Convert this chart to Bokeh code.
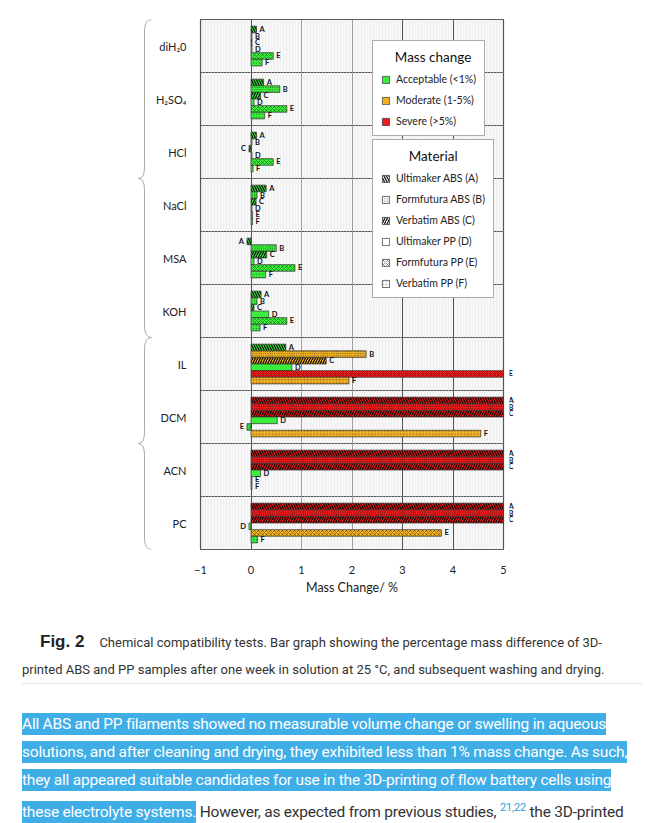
import numpy as np
from bokeh.plotting import figure
from bokeh.core.properties import value
from bokeh.models import (ColumnDataSource, Range1d, FixedTicker, LabelSet, Legend,
                          LegendItem, Div, BoxAnnotation)
from bokeh.layouts import column, row
from bokeh.embed import file_html
from bokeh.resources import INLINE

# ---------------- data ----------------
categories = ["diH\u20820", "H\u2082SO\u2084", "HCl", "NaCl", "MSA", "KOH", "IL", "DCM", "ACN", "PC"]
group_sizes = [6, 4]          # aqueous, organic
letters = ["A", "B", "C", "D", "E", "F"]
materials = ["Ultimaker ABS (A)", "Formfutura ABS (B)", "Verbatim ABS (C)",
             "Ultimaker PP (D)", "Formfutura PP (E)", "Verbatim PP (F)"]
# mass change (%) per material, in category order (values >5 drawn at the 5 % limit)
vals_A = [0.11, 0.25, 0.11, 0.30, -0.08, 0.20, 0.69, 5.0, 5.0, 5.0]
vals_B = [0.02, 0.57, 0.02, 0.12, 0.50, 0.12, 2.28, 5.0, 5.0, 5.0]
vals_C = [0.02, 0.19, -0.04, 0.10, 0.31, 0.06, 1.49, 5.0, 5.0, 5.0]
vals_D = [0.02, 0.06, 0.02, 0.02, 0.06, 0.35, 0.81, 0.52, 0.19, -0.04]
vals_E = [0.44, 0.71, 0.44, 0.03, 0.87, 0.71, 5.0, -0.08, 0.02, 3.77]
vals_F = [0.22, 0.27, 0.04, 0.03, 0.29, 0.18, 1.94, 4.55, 0.02, 0.13]
values = [vals_A, vals_B, vals_C, vals_D, vals_E, vals_F]
x_ticks = [-1, 0, 1, 2, 3, 4, 5]
x_min, x_max = -1, 5

class_names = ["Acceptable (<1%)", "Moderate (1-5%)", "Severe (>5%)"]
class_colors = ["#3cee3c", "#f0b224", "#ee1c1c"]
class_limits = [1.0, 5.0]

hatch_styles = [
    dict(hatch_pattern="left_diagonal_line", hatch_scale=5, hatch_weight=1.3, hatch_color="black", hatch_alpha=0.9),
    dict(hatch_pattern="dot", hatch_scale=2.2, hatch_weight=1.0, hatch_color="black", hatch_alpha=0.65),
    dict(hatch_pattern="right_diagonal_line", hatch_scale=5, hatch_weight=1.3, hatch_color="black", hatch_alpha=0.9),
    dict(),
    dict(hatch_pattern="diagonal_cross", hatch_scale=4, hatch_weight=0.8, hatch_color="black", hatch_alpha=0.45),
    dict(hatch_pattern="dot", hatch_scale=3.2, hatch_weight=1.0, hatch_color="black", hatch_alpha=0.4),
]

FONT = "Lato"
n = len(categories)
bar_h = 0.125
TOP, BOTTOM = 19, 48
H = TOP + 530 + BOTTOM

main = figure(width=357, height=H, x_range=Range1d(x_min, x_max), y_range=Range1d(0, n),
              output_backend="svg", toolbar_location=None,
              min_border_left=37, min_border_right=6, min_border_top=TOP, min_border_bottom=BOTTOM)
main.background_fill_color = "#f7f7f7"
main.border_fill_color = "white"
main.outline_line_color = "#555555"
main.outline_line_width = 1.2

main.add_layout(BoxAnnotation(level="underlay", fill_alpha=0, line_alpha=0,
                              hatch_pattern="vertical_line", hatch_color="#e6e6e6",
                              hatch_scale=3, hatch_weight=0.5))

main.xgrid.ticker = FixedTicker(ticks=x_ticks)
main.xgrid.grid_line_color = "#555555"
main.xgrid.grid_line_width = 1
main.ygrid.ticker = FixedTicker(ticks=list(range(1, n)))
main.ygrid.grid_line_color = "#555555"
main.ygrid.grid_line_width = 1

centers = [n - i - 0.5 for i in range(n)]
main.yaxis.ticker = FixedTicker(ticks=centers)
main.yaxis.major_label_overrides = {c: cat for c, cat in zip(centers, categories)}
main.xaxis.ticker = FixedTicker(ticks=x_ticks)
for ax in (main.xaxis[0], main.yaxis[0]):
    ax.axis_line_color = None
    ax.major_tick_line_color = None
    ax.minor_tick_line_color = None
    ax.major_label_text_font = FONT
    ax.major_label_text_font_size = "11px"
    ax.major_label_text_color = "#222222"
main.yaxis.major_label_standoff = 8
main.xaxis.major_label_standoff = 10
main.xaxis.axis_label = "Mass Change/ %"
main.xaxis.axis_label_text_font = FONT
main.xaxis.axis_label_text_font_style = "normal"
main.xaxis.axis_label_text_font_size = "12.5px"
main.xaxis.axis_label_text_color = "#222222"
main.xaxis.axis_label_standoff = 3


def class_color(v):
    if v >= class_limits[1]:
        return class_colors[2]
    if v >= class_limits[0]:
        return class_colors[1]
    return class_colors[0]


lab_pos = dict(x=[], y=[], t=[])
lab_neg = dict(x=[], y=[], t=[])
lab_cap = dict(y=[], t=[])
for j, (vals, letter) in enumerate(zip(values, letters)):
    ys = [c + 0.3125 - j * bar_h for c in centers]
    src = ColumnDataSource(dict(y=ys, right=vals, color=[class_color(v) for v in vals]))
    main.hbar(y="y", left=0, right="right", height=bar_h, source=src, fill_color="color",
              line_color="#333333", line_width=0.7, **hatch_styles[j])
    for v, y in zip(vals, ys):
        if v >= x_max:
            lab_cap["y"].append(y); lab_cap["t"].append(letter)
        elif v < 0:
            lab_neg["x"].append(v); lab_neg["y"].append(y); lab_neg["t"].append(letter)
        else:
            lab_pos["x"].append(v); lab_pos["y"].append(y); lab_pos["t"].append(letter)

label_style = dict(text_font=value(FONT), text_font_size=value("7.5px"), text_font_style="bold",
                   text_color="#111111", text_baseline="middle")
main.add_layout(LabelSet(x="x", y="y", text="t", x_offset=3,
                         source=ColumnDataSource(lab_pos), text_align="left", **label_style))
main.add_layout(LabelSet(x="x", y="y", text="t", x_offset=-3,
                         source=ColumnDataSource(lab_neg), text_align="right", **label_style))

# legends (placeholder renderers with NaN data, used only for legend glyphs)
nan_src = dict(y=[np.nan], right=[np.nan])
mass_items = []
for name, col in zip(class_names, class_colors):
    r = main.hbar(y="y", right="right", left=0, height=bar_h, source=ColumnDataSource(nan_src),
                  fill_color=col, line_color="#333333", line_width=0.7)
    mass_items.append(LegendItem(label=name, renderers=[r]))
mat_items = []
for name, hs in zip(materials, hatch_styles):
    r = main.hbar(y="y", right="right", left=0, height=bar_h, source=ColumnDataSource(nan_src),
                  fill_color="white", line_color="#333333", line_width=0.7, **hs)
    mat_items.append(LegendItem(label=name, renderers=[r]))

legend_style = dict(border_line_color="#555555", border_line_width=1.2, background_fill_color="white",
                    background_fill_alpha=1, label_text_font=FONT, label_text_font_size="10.5px",
                    label_text_color="#222222", title_text_font=FONT, title_text_font_size="13.5px",
                    title_text_font_style="normal", title_text_color="#111111",
                    glyph_width=9, glyph_height=9, label_height=12, spacing=9, padding=8,
                    margin=0, label_standoff=6, title_standoff=8)
NB = "\u00a0"
leg1 = Legend(items=mass_items, title=NB * 4 + "Mass change", location=(172, 413), **legend_style)
leg2 = Legend(items=mat_items, title=NB * 8 + "Material", location=(172, 251), **legend_style)
main.add_layout(leg1, "center")
main.add_layout(leg2, "center")

# labels of bars that run past the 5 % limit (right strip)
side = figure(width=120, height=H, x_range=Range1d(0, 120), y_range=main.y_range,
              output_backend="svg", toolbar_location=None, x_axis_location=None,
              y_axis_location=None, min_border_left=0, min_border_right=0,
              min_border_top=TOP, min_border_bottom=BOTTOM)
side.outline_line_color = None
side.grid.visible = False
side.text(x=0, y="y", text="t", source=ColumnDataSource(lab_cap), x_offset=-1,
          text_font=value(FONT), text_font_size="7.5px", text_font_style="bold",
          text_color="#111111", text_baseline="middle", text_align="left")

# braces figure (left)
brace = figure(width=152, height=H, x_range=Range1d(0, 152), y_range=main.y_range,
               output_backend="svg", toolbar_location=None, x_axis_location=None,
               y_axis_location=None, min_border_left=0, min_border_right=0,
               min_border_top=TOP, min_border_bottom=BOTTOM)
brace.outline_line_color = None
brace.grid.visible = False
brace.background_fill_alpha = 0
xe, xs, xt, r = 151.0, 144.0, 138.0, 0.22
top = float(n)
q = dict(x0=[], y0=[], x1=[], y1=[], cx=[], cy=[])
seg = dict(x0=[], y0=[], x1=[], y1=[])
for g in group_sizes:
    yt, yb = top, top - g
    ym = (yt + yb) / 2
    for (a0, b0, a1, b1, ca, cb) in [(xe, yt, xs, yt - r, xs, yt), (xs, ym + r, xt, ym, xs, ym),
                                     (xt, ym, xs, ym - r, xs, ym), (xs, yb + r, xe, yb, xs, yb)]:
        q["x0"].append(a0); q["y0"].append(b0); q["x1"].append(a1); q["y1"].append(b1)
        q["cx"].append(ca); q["cy"].append(cb)
    seg["x0"] += [xs, xs]; seg["y0"] += [yt - r, ym - r]
    seg["x1"] += [xs, xs]; seg["y1"] += [ym + r, yb + r]
    top = yb
brace.quadratic(x0="x0", y0="y0", x1="x1", y1="y1", cx="cx", cy="cy",
                source=ColumnDataSource(q), line_color="#aaaaaa", line_width=1)
brace.segment(x0="x0", y0="y0", x1="x1", y1="y1", source=ColumnDataSource(seg),
              line_color="#aaaaaa", line_width=1)

html = """
<div style="font-family:Roboto, sans-serif; color:#333333; width:637px;">
<div style="padding-left:17px; margin-top:26px; line-height:27px; font-size:13px; white-space:nowrap;">
<span style="font-family:'Liberation Sans', Arial, sans-serif; font-weight:bold; font-size:17px; color:#222222; margin-left:18px; margin-right:15px;">Fig. 2</span>Chemical compatibility tests. Bar graph showing the percentage mass difference of 3D-<br>printed ABS and PP samples after one week in solution at 25 &deg;C, and subsequent washing and drying.
</div>
<div style="margin-left:17px; border-top:1px solid #e4e4e4; margin-top:0px;"></div>
<div style="padding-left:17px; margin-top:26px; line-height:28px; font-size:15.5px; white-space:nowrap; letter-spacing:-0.22px;">
<span style="background:#3fade6; color:white; padding:2px 0;">All ABS and PP filaments showed no measurable volume change or swelling in aqueous</span><br>
<span style="background:#3fade6; color:white; padding:2px 0;">solutions, and after cleaning and drying, they exhibited less than 1% mass change. As such,</span><br>
<span style="background:#3fade6; color:white; padding:2px 0;">they all appeared suitable candidates for use in the 3D-printing of flow battery cells using</span><br>
<span style="background:#3fade6; color:white; padding:2px 0;">these electrolyte systems.</span> However, as expected from previous studies, <sup style="color:#2a9fd6; font-size:11px;">21,22</sup> the 3D-printed
</div>
</div>
"""
div = Div(text=html, width=629, height=218)

layout = column(row(brace, main, side, spacing=0), div, spacing=0)
open("out.html", "w").write(file_html(layout, INLINE))
